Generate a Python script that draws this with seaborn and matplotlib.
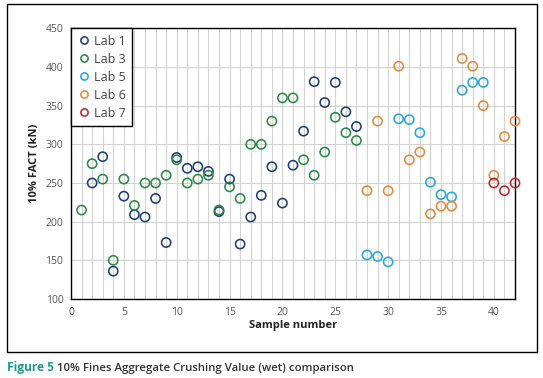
import matplotlib
matplotlib.use("Agg")
import matplotlib.pyplot as plt
from matplotlib.lines import Line2D
from matplotlib.patches import Rectangle
import seaborn as sns
import pandas as pd

lab1_x = list(range(2, 28))
lab1_y = [250, 284, 136, 233, 209, 206, 230, 173, 283, 269, 271, 265, 213,
          255, 171, 206, 234, 271, 224, 273, 317, 381, 354, 380, 342, 323]
lab3_x = list(range(1, 28))
lab3_y = [215, 275, 255, 150, 255, 221, 250, 250, 260, 280, 250, 255, 260, 215,
          245, 230, 300, 300, 330, 360, 360, 280, 260, 290, 335, 315, 305]
lab5_x = list(range(28, 40))
lab5_y = [157, 155, 148, 333, 332, 315, 251, 235, 232, 370, 380, 380]
lab6_x = list(range(28, 43))
lab6_y = [240, 330, 240, 401, 280, 290, 210, 220, 220, 411, 401, 350, 260, 310, 330]
lab7_x = [40, 41, 42]
lab7_y = [250, 240, 250]

labs = ["Lab 1", "Lab 3", "Lab 5", "Lab 6", "Lab 7"]
colors = ["#1f3d7c", "#2a8a45", "#27a6dc", "#e8873a", "#c1272d"]

frames = []
for name, xs, ys in zip(labs, [lab1_x, lab3_x, lab5_x, lab6_x, lab7_x],
                        [lab1_y, lab3_y, lab5_y, lab6_y, lab7_y]):
    frames.append(pd.DataFrame({"sample": xs, "fact": ys, "lab": name}))
df = pd.concat(frames, ignore_index=True)

sns.set_style("white")
plt.rcParams['font.family'] = ['Open Sans', 'DejaVu Sans']

fig = plt.figure(figsize=(5.43, 3.78), dpi=100)
ax = fig.add_axes([71/543, 1-299/378, (515-71)/543, (299-28.3)/378])

sns.scatterplot(data=df, x="sample", y="fact", hue="lab", palette=dict(zip(labs, colors)),
                marker="o", s=44, linewidth=1.15, ax=ax, legend=False, zorder=3)
coll = ax.collections[0]
fc = coll.get_facecolors()
coll.set_edgecolors(fc)
coll.set_facecolors("none")
coll.set_clip_on(False)

ax.set_xlim(0, 42)
ax.set_ylim(100, 450)
ax.set_xticks(range(0, 41, 5))
ax.set_yticks(range(100, 451, 50))
ax.set_xticks(range(0, 43), minor=True)
ax.grid(True, which="major", axis="y", color="#d2d2d2", linewidth=0.8)
ax.grid(True, which="both", axis="x", color="#d2d2d2", linewidth=0.8)
ax.set_axisbelow(True)
for s in ax.spines.values():
    s.set_color("black")
    s.set_linewidth(1.0)
ax.tick_params(axis="both", which="major", direction="out", length=4, width=0.8,
               colors="black", labelcolor="#555555", labelsize=7.5, pad=1.5)
ax.tick_params(axis="x", which="minor", length=0)
ax.set_xlabel("Sample number", fontsize=8, fontweight="bold", color="#222222", labelpad=2)
ax.set_ylabel("10% FACT (kN)", fontsize=8, fontweight="bold", color="#222222", labelpad=4)

handles = [Line2D([], [], marker="o", linestyle="", markerfacecolor="none",
                  markeredgecolor=c, markeredgewidth=1.15, markersize=5.2) for c in colors]
leg = ax.legend(handles, labs, loc="upper left", bbox_to_anchor=(0.0, 1.0), frameon=True,
                fancybox=False, edgecolor="black", framealpha=1, fontsize=9,
                handletextpad=0.3, borderpad=0.5, labelspacing=0.4, handlelength=1.0,
                borderaxespad=0.0)
leg.get_frame().set_linewidth(1.0)
for t in leg.get_texts():
    t.set_color("#444444")

fig.patches.append(Rectangle((7/543, 1-352/378), 530/543, 348/378, transform=fig.transFigure,
                             fill=False, edgecolor="black", linewidth=1.0))

fig.text(7/543, 1-371/378, "Figure 5", fontsize=8.6, fontweight="bold", color="#1a9a8c",
         va="baseline", ha="left")
fig.text(57/543, 1-371/378, "10% Fines Aggregate Crushing Value (wet) comparison", fontsize=8.2,
         fontweight="semibold", color="#333333", va="baseline", ha="left")

fig.savefig("out.png", dpi=100)
